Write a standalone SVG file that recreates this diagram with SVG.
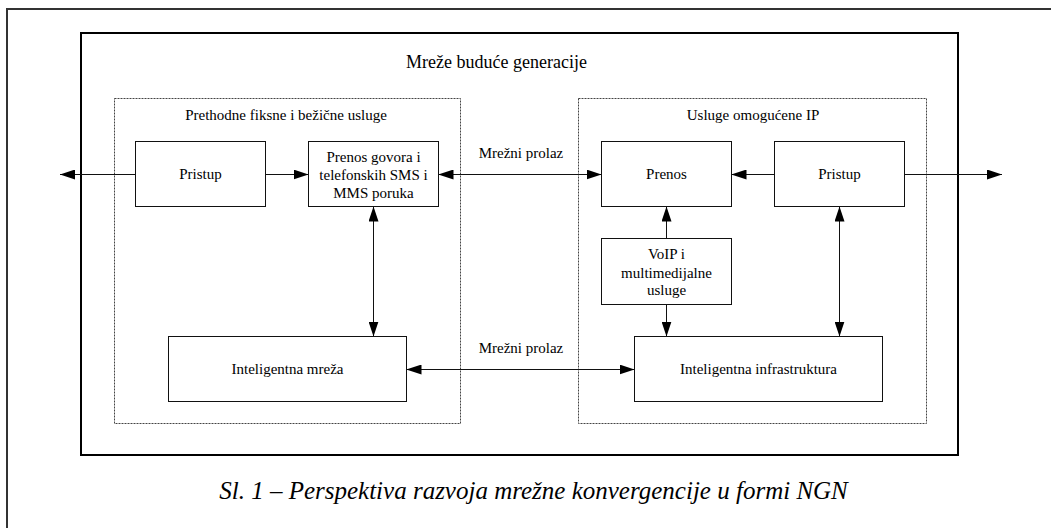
<svg xmlns="http://www.w3.org/2000/svg" width="1051" height="528" viewBox="0 0 1051 528">
<style>
text{font-family:"Liberation Serif","Times New Roman",serif;fill:#000;}
.t{font-size:15px;text-anchor:middle;}
.box{fill:#fff;stroke:#111;stroke-width:1;}
.grp{fill:none;stroke:#444;stroke-width:1;stroke-dasharray:2,1;}
.ln{stroke:#111;stroke-width:1;fill:none;marker-end:url(#ah);}
.dl{marker-start:url(#ah);}
</style>
<defs>
<marker id="ah" markerUnits="userSpaceOnUse" markerWidth="15" markerHeight="10" refX="15" refY="5" orient="auto-start-reverse">
<path d="M0,0 L15,5 L0,10 z" fill="#000"/>
</marker>
</defs>
<rect width="1051" height="528" fill="#fff"/>
<g id="outer-frame">
<path d="M7,528 V9 H1051" fill="none" stroke="#333" stroke-width="2"/>
</g>
<g id="ngn-frame">
<rect x="81" y="33" width="877" height="422" fill="none" stroke="#000" stroke-width="2"/>
<text x="496.5" y="68" style="font-size:18px;text-anchor:middle">Mreže buduće generacije</text>
</g>
<g id="legacy-group">
<rect class="grp" x="114.5" y="98.5" width="346" height="325"/>
<text class="t" x="286" y="120">Prethodne fiksne i bežične usluge</text>
</g>
<g id="ip-group">
<rect class="grp" x="578.5" y="98.5" width="348" height="325"/>
<text class="t" x="753" y="120">Usluge omogućene IP</text>
</g>
<g id="connectors">
<line class="ln" x1="135.5" y1="174.5" x2="60" y2="174.5"/>
<line class="ln" x1="265.5" y1="174.5" x2="308.5" y2="174.5"/>
<line class="ln dl" x1="438.5" y1="174.5" x2="601.5" y2="174.5"/>
<line class="ln" x1="774.5" y1="174.5" x2="731.5" y2="174.5"/>
<line class="ln" x1="904.5" y1="174.5" x2="1002" y2="174.5"/>
<line class="ln dl" x1="373.5" y1="206.5" x2="373.5" y2="336.5"/>
<line class="ln" x1="666.5" y1="238.5" x2="666.5" y2="206.5"/>
<line class="ln" x1="666.5" y1="304.5" x2="666.5" y2="336.5"/>
<line class="ln dl" x1="839.5" y1="206.5" x2="839.5" y2="336.5"/>
<line class="ln dl" x1="406.5" y1="369.5" x2="634.5" y2="369.5"/>
<text class="t" x="521" y="158">Mrežni prolaz</text>
<text class="t" x="521" y="353">Mrežni prolaz</text>
</g>
<g id="pristup-left">
<rect class="box" x="135.5" y="141.5" width="130" height="65"/>
<text class="t" x="200.5" y="179">Pristup</text>
</g>
<g id="prenos-govora">
<rect class="box" x="308.5" y="141.5" width="130" height="65"/>
<text class="t" x="373.5" y="162">Prenos govora i</text>
<text class="t" x="373.5" y="179.5">telefonskih SMS i</text>
<text class="t" x="373.5" y="197.5">MMS poruka</text>
</g>
<g id="prenos">
<rect class="box" x="601.5" y="141.5" width="130" height="65"/>
<text class="t" x="666.5" y="179">Prenos</text>
</g>
<g id="pristup-right">
<rect class="box" x="774.5" y="141.5" width="130" height="65"/>
<text class="t" x="839.5" y="179">Pristup</text>
</g>
<g id="voip">
<rect class="box" x="601.5" y="238.5" width="130" height="66"/>
<text class="t" x="666.5" y="259">VoIP i</text>
<text class="t" x="666.5" y="277.5">multimedijalne</text>
<text class="t" x="666.5" y="295">usluge</text>
</g>
<g id="inteligentna-mreza">
<rect class="box" x="168.5" y="336.5" width="238" height="65"/>
<text class="t" x="287.5" y="374">Inteligentna mreža</text>
</g>
<g id="inteligentna-infrastruktura">
<rect class="box" x="634.5" y="336.5" width="248" height="65"/>
<text class="t" x="758.5" y="374">Inteligentna infrastruktura</text>
</g>
<g id="caption">
<text x="533.5" y="499" style="font-size:25px;font-style:italic;text-anchor:middle">Sl. 1 – Perspektiva razvoja mrežne konvergencije u formi NGN</text>
</g>
</svg>
